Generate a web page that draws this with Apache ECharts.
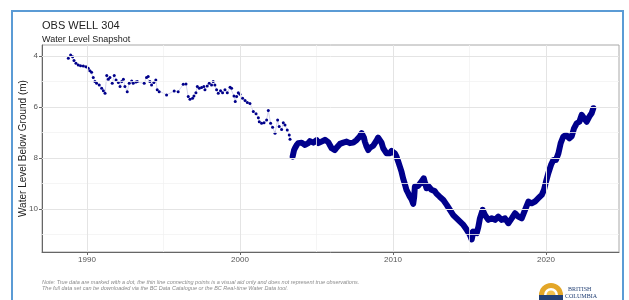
<!DOCTYPE html>
<html>
<head>
<meta charset="utf-8">
<script src="https://cdn.jsdelivr.net/npm/echarts@6/dist/echarts.min.js"></script>
<style>
  html, body { margin: 0; padding: 0; background: #fff; }
  #chart { width: 629px; height: 300px; }
</style>
</head>
<body>
<div id="chart"></div>
<script>
// manual readings (dots, 1988-2003)
const manualYears = [
  1988.78, 1988.93, 1989.06, 1989.15, 1989.28, 1989.43, 1989.58, 1989.76, 1989.93, 1990.08,
  1990.19, 1990.30, 1990.41, 1990.52, 1990.63, 1990.80, 1990.96, 1991.07, 1991.18, 1991.29,
  1991.39, 1991.50, 1991.65, 1991.78, 1991.90, 1992.05, 1992.16, 1992.27, 1992.38, 1992.48,
  1992.63, 1992.76, 1992.92, 1993.02, 1993.20, 1993.29, 1993.74, 1993.89, 1994.00, 1994.11,
  1994.22, 1994.37, 1994.50, 1994.59, 1994.72, 1995.20, 1995.70, 1995.96, 1996.29, 1996.47,
  1996.62, 1996.73, 1996.90, 1996.99, 1997.12, 1997.21, 1997.34, 1997.49, 1997.64, 1997.71,
  1997.86, 1997.99, 1998.14, 1998.25, 1998.36, 1998.47, 1998.58, 1998.73, 1998.86, 1999.02,
  1999.17, 1999.35, 1999.45, 1999.61, 1999.69, 1999.78, 1999.89, 2000.00, 2000.17, 2000.33,
  2000.48, 2000.65, 2000.87, 2001.05, 2001.20, 2001.26, 2001.41, 2001.57, 2001.74, 2001.85,
  2002.00, 2002.13, 2002.29, 2002.46, 2002.56, 2002.72, 2002.83, 2002.94, 2003.09, 2003.22,
  2003.27
];
const manualLevels = [
  4.09, 3.96, 4.03, 4.18, 4.29, 4.35, 4.38, 4.39, 4.42, 4.48,
  4.58, 4.64, 4.84, 5.00, 5.07, 5.14, 5.27, 5.36, 5.46, 4.77,
  4.91, 4.84, 5.07, 4.77, 4.94, 5.04, 5.20, 5.00, 4.91, 5.20,
  5.40, 5.07, 4.98, 5.07, 5.02, 5.00, 5.07, 4.84, 4.81, 5.00,
  5.14, 5.04, 4.94, 5.33, 5.40, 5.53, 5.37, 5.40, 5.11, 5.10,
  5.59, 5.70, 5.66, 5.57, 5.44, 5.20, 5.27, 5.24, 5.20, 5.33,
  5.18, 5.07, 5.14, 5.00, 5.14, 5.33, 5.46, 5.36, 5.44, 5.33,
  5.44, 5.23, 5.27, 5.57, 5.79, 5.59, 5.44, 5.50, 5.66, 5.75,
  5.83, 5.86, 6.18, 6.27, 6.42, 6.58, 6.64, 6.62, 6.51, 6.14,
  6.64, 6.80, 7.03, 6.51, 6.77, 6.88, 6.62, 6.71, 6.90, 7.10,
  7.27
];

// logger record (2003-2023)
const loggerYears = [
  2003.44, 2003.53, 2003.59, 2003.70, 2003.81, 2003.92, 2004.03, 2004.14, 2004.25, 2004.36,
  2004.46, 2004.57, 2004.68, 2004.79, 2004.90, 2005.01, 2005.12, 2005.22, 2005.33, 2005.44,
  2005.55, 2005.66, 2005.77, 2005.88, 2005.99, 2006.10, 2006.20, 2006.31, 2006.42, 2006.53,
  2006.64, 2006.75, 2006.86, 2006.97, 2007.07, 2007.18, 2007.29, 2007.40, 2007.51, 2007.62,
  2007.73, 2007.84, 2007.95, 2008.01, 2008.10, 2008.16, 2008.27, 2008.38, 2008.49, 2008.60,
  2008.71, 2008.82, 2008.92, 2009.03, 2009.14, 2009.25, 2009.36, 2009.47, 2009.58, 2009.69,
  2009.79, 2009.90, 2010.01, 2010.12, 2010.23, 2010.34, 2010.45, 2010.56, 2010.66, 2010.77,
  2010.88, 2010.99, 2011.10, 2011.21, 2011.32, 2011.38, 2011.43, 2011.54, 2011.64, 2011.75,
  2011.86, 2012.01, 2012.10, 2012.19, 2012.30, 2012.40, 2012.51, 2012.62, 2012.73, 2012.84,
  2012.95, 2013.05, 2013.29, 2013.51, 2013.72, 2013.94, 2014.16, 2014.38, 2014.60, 2014.82,
  2015.03, 2015.14, 2015.25, 2015.47, 2015.58, 2015.68, 2015.86, 2016.01, 2016.23, 2016.45,
  2016.67, 2016.88, 2017.10, 2017.32, 2017.54, 2017.76, 2017.97, 2018.19, 2018.41, 2018.63,
  2018.85, 2019.06, 2019.28, 2019.50, 2019.72, 2019.87, 2020.00, 2020.15, 2020.33, 2020.48,
  2020.65, 2020.81, 2020.96, 2021.13, 2021.31, 2021.53, 2021.68, 2021.83, 2022.01, 2022.18,
  2022.33, 2022.49, 2022.66, 2022.83, 2022.98, 2023.09
];
const loggerLevels = [
  7.95, 7.70, 7.62, 7.50, 7.42, 7.45, 7.40, 7.36, 7.49, 7.44,
  7.42, 7.34, 7.36, 7.40, 7.36, 7.30, 7.42, 7.36, 7.36, 7.32,
  7.29, 7.34, 7.38, 7.50, 7.62, 7.58, 7.69, 7.60, 7.53, 7.45,
  7.49, 7.40, 7.40, 7.36, 7.36, 7.42, 7.49, 7.40, 7.36, 7.30,
  7.23, 7.15, 7.03, 6.98, 7.20, 7.36, 7.55, 7.69, 7.60, 7.55,
  7.52, 7.49, 7.32, 7.20, 7.16, 7.40, 7.62, 7.72, 7.82, 7.85,
  7.82, 7.72, 7.69, 7.82, 7.95, 8.14, 8.34, 8.55, 8.80, 9.02,
  9.25, 9.38, 9.52, 9.62, 9.80, 9.55, 9.12, 9.15, 9.10, 9.05,
  8.93, 8.80, 9.00, 9.19, 9.10, 9.15, 9.25, 9.32, 9.30, 9.40,
  9.45, 9.52, 9.65, 9.84, 10.04, 10.24, 10.37, 10.50, 10.63, 10.82,
  11.02, 11.20, 10.89, 10.95, 10.70, 10.37, 10.04, 10.24, 10.43, 10.37,
  10.43, 10.30, 10.43, 10.37, 10.56, 10.37, 10.17, 10.30, 10.37, 10.04,
  9.71, 9.78, 9.71, 9.58, 9.45, 9.25, 8.93, 8.60, 8.27, 8.08,
  8.08, 7.82, 7.42, 7.16, 7.10, 7.23, 7.15, 6.84, 6.64, 6.58,
  6.31, 6.44, 6.58, 6.38, 6.25, 6.05
];

const xTicks = [1990, 2000, 2010, 2020];
const xMinor = [1995, 2005, 2015];
const yTicks = [4, 6, 8, 10];
const yMinor = [5, 7, 9, 11];

const navy = '#00008b';
const chart = echarts.init(document.getElementById('chart'), null, { renderer: 'canvas' });

const minorStyle = { color: '#f2f2f2', width: 0.8, type: 'solid' };
const majorStyle = { color: '#e4e4e4', width: 1, type: 'solid' };
const gridLines = []
  .concat(xMinor.map(v => ({ xAxis: v, lineStyle: minorStyle })))
  .concat(yMinor.map(v => ({ yAxis: v, lineStyle: minorStyle })))
  .concat(xTicks.map(v => ({ xAxis: v, lineStyle: majorStyle })))
  .concat(yTicks.map(v => ({ yAxis: v, lineStyle: majorStyle })));

const option = {
  animation: false,
  title: {
    text: 'OBS WELL 304',
    subtext: 'Water Level Snapshot',
    left: 37,
    top: 14,
    itemGap: 3,
    textStyle: { fontFamily: 'Liberation Sans', fontSize: 11, fontWeight: 'normal', color: '#222', lineHeight: 13 },
    subtextStyle: { fontFamily: 'Liberation Sans', fontSize: 9, color: '#222', lineHeight: 10 }
  },
  grid: {
    left: 42, right: 10, top: 45, bottom: 48,
    show: true, borderColor: '#a8a8a8', borderWidth: 1
  },
  xAxis: {
    type: 'value',
    min: 1987.06,
    max: 2024.77,
    axisLine: { show: true, lineStyle: { color: '#666', width: 1 } },
    axisTick: { show: true, customValues: xTicks, length: 3, lineStyle: { color: '#666' } },
    axisLabel: {
      customValues: xTicks,
      formatter: v => String(Math.round(v)),
      fontFamily: 'Liberation Sans', fontSize: 8, color: '#555', margin: 4
    },
    splitLine: { show: false }
  },
  yAxis: {
    type: 'value',
    inverse: true,
    min: 3.57,
    max: 11.69,
    name: 'Water Level Below Ground (m)',
    nameLocation: 'middle',
    nameGap: 14,
    nameMoveOverlap: false,
    nameTextStyle: { fontFamily: 'Liberation Sans', fontSize: 10, color: '#222' },
    axisLine: { show: true, lineStyle: { color: '#666', width: 1 } },
    axisTick: { show: true, customValues: yTicks, length: 3, lineStyle: { color: '#666' } },
    axisLabel: {
      customValues: yTicks,
      fontFamily: 'Liberation Sans', fontSize: 8, color: '#555', margin: 4
    },
    splitLine: { show: false }
  },
  series: [
    {
      name: 'grid',
      type: 'line',
      data: [],
      z: 0,
      silent: true,
      markLine: { silent: true, symbol: ['none', 'none'], label: { show: false }, data: gridLines }
    },
    {
      name: 'manual',
      type: 'line',
      data: manualYears.map((y, i) => [y, manualLevels[i]]),
      z: 3,
      symbol: 'circle',
      symbolSize: 3,
      showSymbol: true,
      itemStyle: { color: navy },
      lineStyle: { color: navy, width: 0.5, opacity: 0.35 }
    },
    {
      name: 'logger',
      type: 'line',
      data: loggerYears.map((y, i) => [y, loggerLevels[i]]),
      z: 3,
      symbol: 'none',
      lineStyle: { color: navy, width: 6, join: 'round', cap: 'round' }
    }
  ],
  graphic: [
    {
      type: 'polyline',
      shape: { points: [[12, 300], [12, 11], [623, 11], [623, 300]] },
      style: { stroke: '#5b9bd5', lineWidth: 2, fill: null },
      silent: true
    },
    {
      type: 'text', left: 42, top: 279, silent: true,
      style: {
        text: 'Note: True data are marked with a dot, the thin line connecting points is a visual aid only and does not represent true observations.',
        font: 'italic 5.5px "Liberation Sans"', fill: '#8a8a8a'
      }
    },
    {
      type: 'text', left: 42, top: 285, silent: true,
      style: {
        text: 'The full data set can be downloaded via the BC Data Catalogue or the BC Real-time Water Data tool.',
        font: 'italic 5.5px "Liberation Sans"', fill: '#8a8a8a'
      }
    },
    // BC logo
    {
      type: 'sector', silent: true,
      shape: { cx: 551, cy: 295, r: 12, r0: 0, startAngle: Math.PI, endAngle: Math.PI * 2 },
      style: { fill: '#e3a628' }
    },
    {
      type: 'sector', silent: true,
      shape: { cx: 551, cy: 295, r: 7, r0: 0, startAngle: Math.PI, endAngle: Math.PI * 2 },
      style: { fill: '#fff' }
    },
    {
      type: 'sector', silent: true,
      shape: { cx: 551, cy: 295, r: 4.5, r0: 0, startAngle: Math.PI, endAngle: Math.PI * 2 },
      style: { fill: '#f2c14e' }
    },
    {
      type: 'rect', silent: true,
      shape: { x: 539, y: 295, width: 24, height: 5 },
      style: { fill: '#234075' }
    },
    {
      type: 'text', left: 568, top: 286, silent: true,
      style: { text: 'BRITISH', font: '6px "Liberation Serif"', fill: '#234075' }
    },
    {
      type: 'text', left: 565, top: 293, silent: true,
      style: { text: 'COLUMBIA', font: '6px "Liberation Serif"', fill: '#234075' }
    }
  ]
};

chart.setOption(option);
</script>
</body>
</html>
